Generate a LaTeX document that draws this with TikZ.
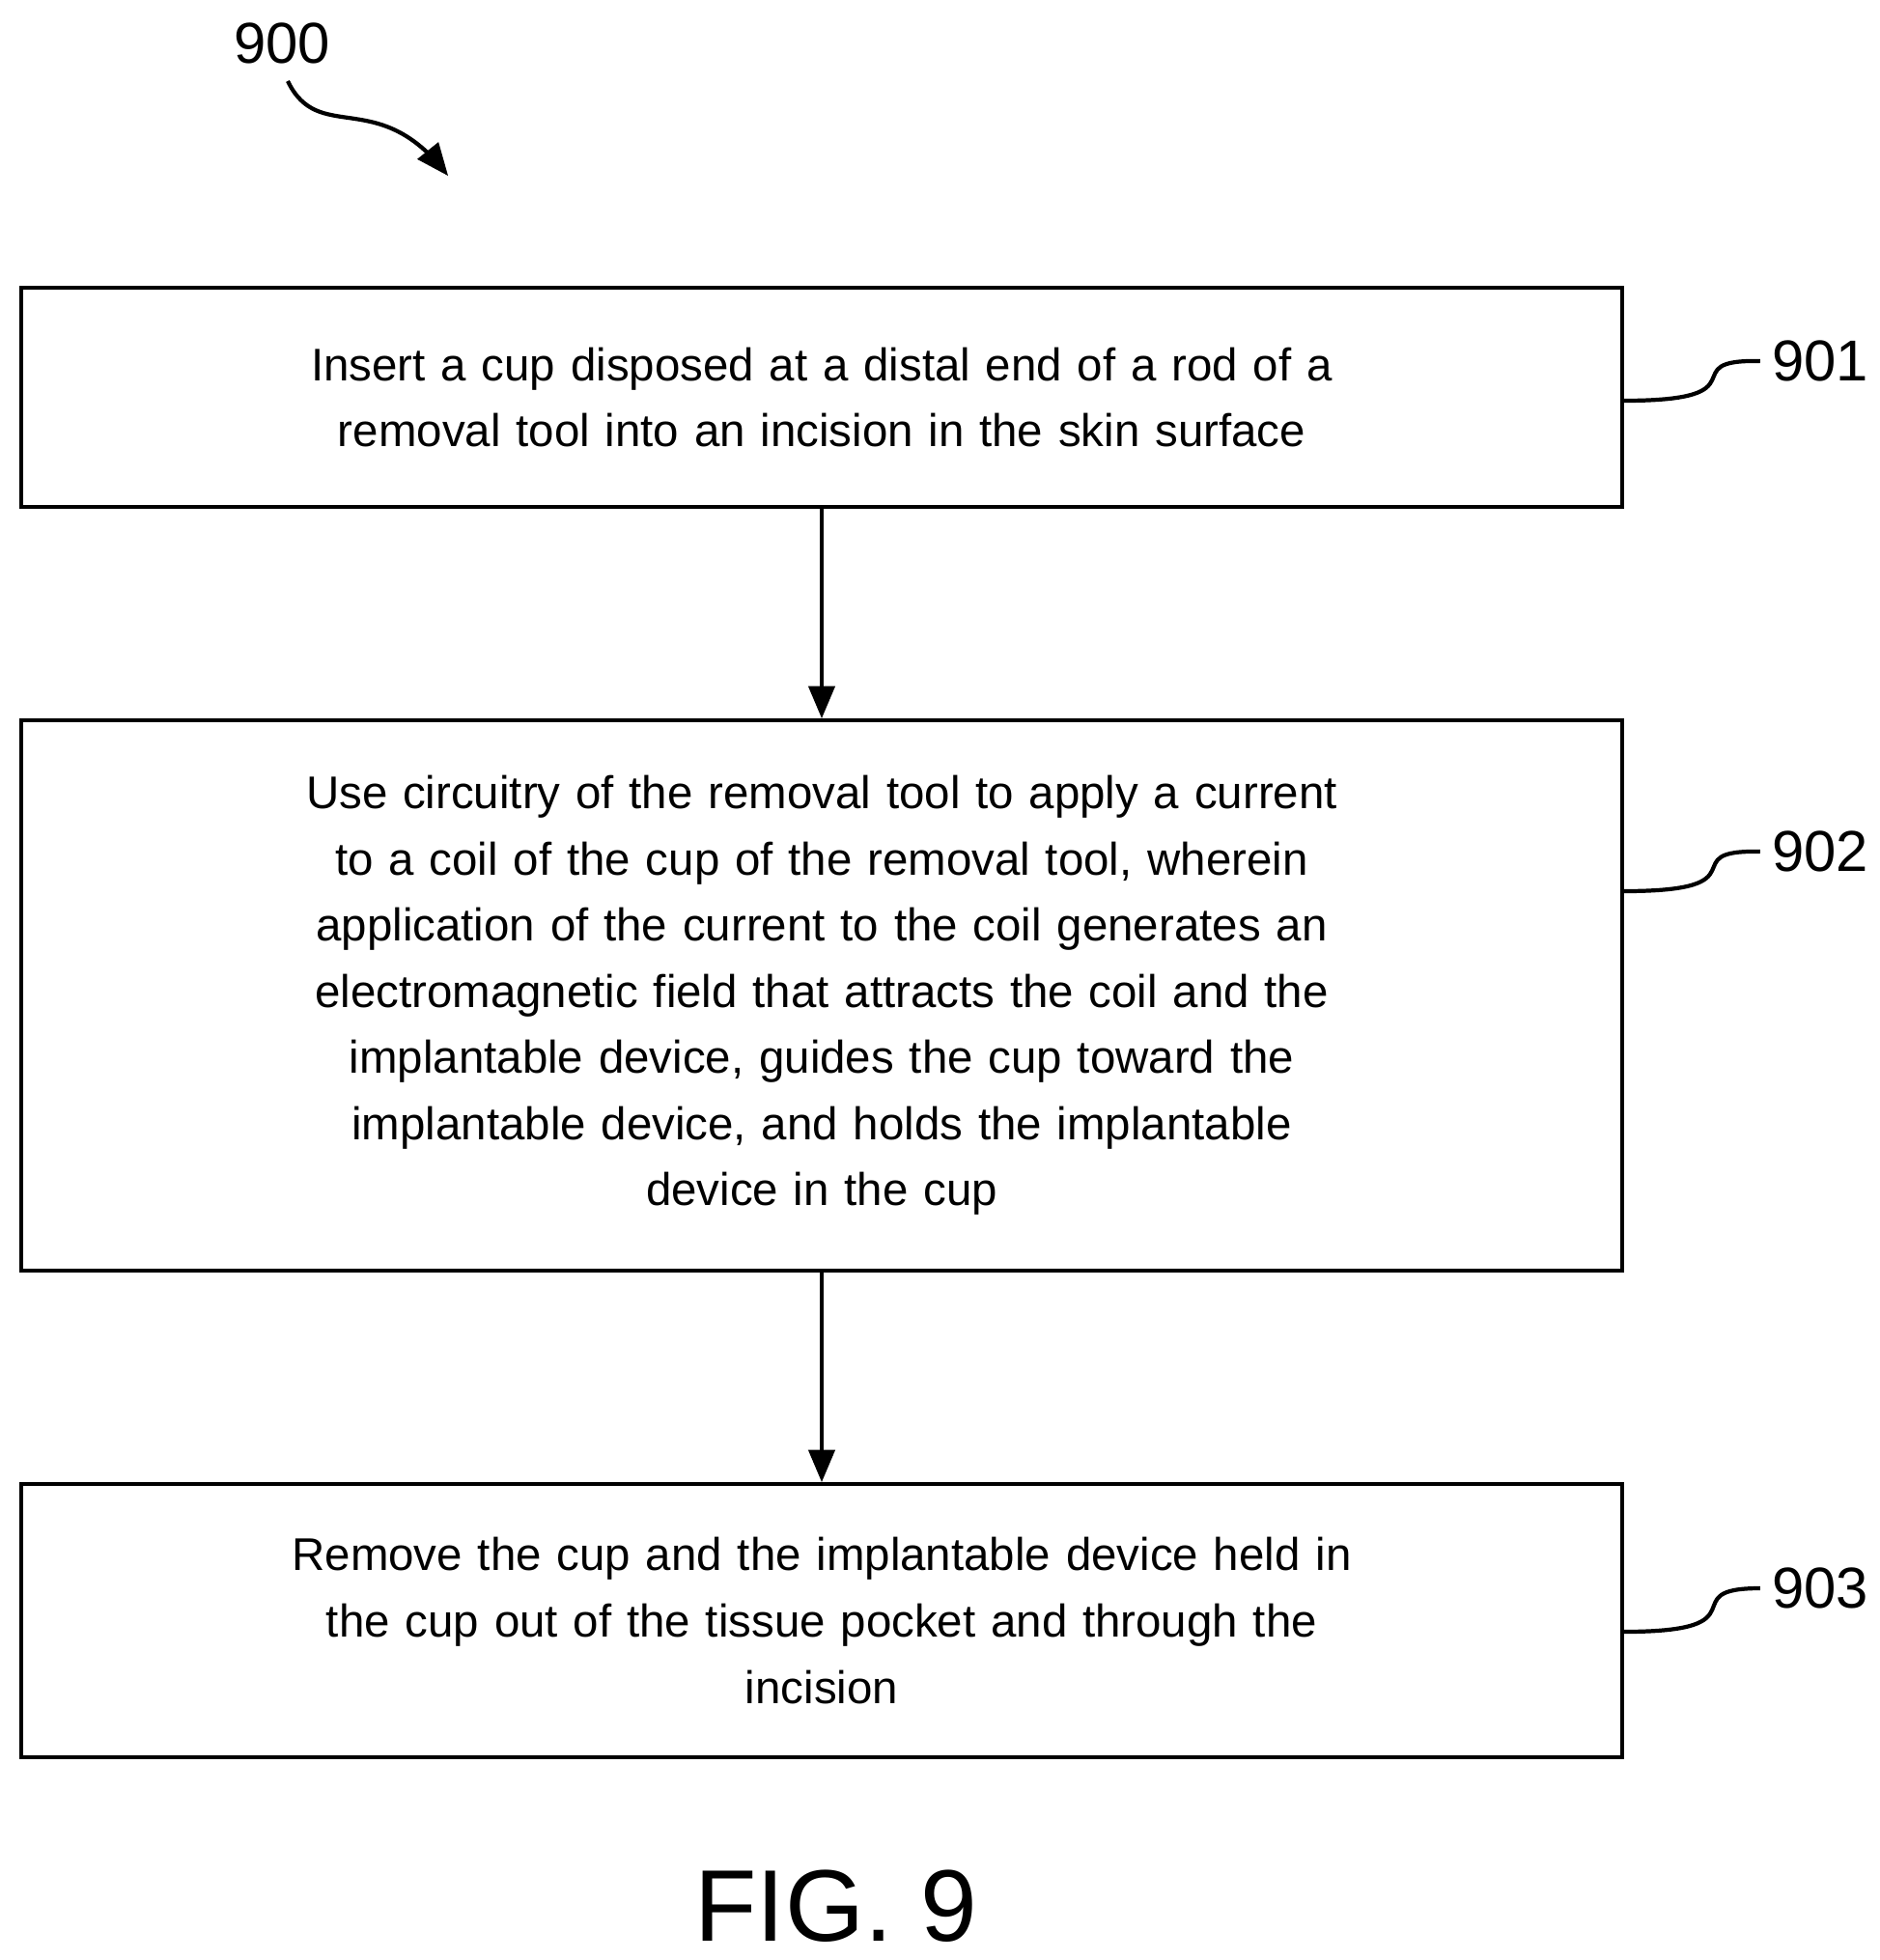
\documentclass[tikz,border=0pt]{standalone}
\usepackage{fontspec}
\setmainfont[WordSpace=1.6]{Liberation Sans}
\newfontfamily\figfont{Liberation Sans}
\usetikzlibrary{arrows,calc}
\tikzstyle{block} = [rectangle, draw, line width=1.2pt, minimum width=16.58cm,
    text width=15.6cm, align=center, font=\fontsize{13.5}{19.5}\selectfont]
\tikzstyle{line} = [draw, line width=1.2pt, -triangle 45]
\tikzstyle{tag} = [font=\fontsize{17}{20}\selectfont]

\begin{document}
\begin{tikzpicture}[node distance = 6.2cm, auto]
    \useasboundingbox (0,0) rectangle (19.46,-20.30);
    % Place nodes
    \node [block, minimum height=2.27cm] (insert) at (8.51,-4.115) {Insert a cup disposed at a distal end of a rod of a\\removal tool into an incision in the skin surface};
    \node [block, below of=insert, node distance=6.195cm, minimum height=5.70cm] (apply) {Use circuitry of the removal tool to apply a current\\to a coil of the cup of the removal tool, wherein\\application of the current to the coil generates an\\electromagnetic field that attracts the coil and the\\implantable device, guides the cup toward the\\implantable device, and holds the implantable\\device in the cup};
    \node [block, below of=apply, node distance=6.475cm, minimum height=2.83cm] (remove) {Remove the cup and the implantable device held in\\the cup out of the tissue pocket and through the\\incision};
    % Reference numerals
    \node [tag] (n900) at (2.92,-0.45) {900};
    \node [tag] (n901) at (18.85,-3.74) {901};
    \node [tag] (n902) at (18.85,-8.82) {902};
    \node [tag] (n903) at (18.85,-16.45) {903};
    \node [font=\figfont\fontsize{30}{34}\selectfont] (fig) at (8.66,-19.74) {FIG. 9};
    \coordinate (c900) at (4.64,-1.82);
    % Draw edges
    \path [line] (insert) -- (apply);
    \path [line] (apply) -- (remove);
    \path [line] (2.98,-0.84) .. controls (3.3,-1.5) and (3.9,-0.9) .. (c900);
    \draw [line width=1.2pt] (insert.east |- 0,-4.15) .. controls (18.3,-4.15) and (17.3,-3.72) .. (n901.west);
    \draw [line width=1.2pt] (apply.east |- 0,-9.23) .. controls (18.3,-9.23) and (17.3,-8.80) .. (n902.west);
    \draw [line width=1.2pt] (remove.east |- 0,-16.90) .. controls (18.3,-16.90) and (17.3,-16.45) .. (n903.west);
\end{tikzpicture}
\end{document}
